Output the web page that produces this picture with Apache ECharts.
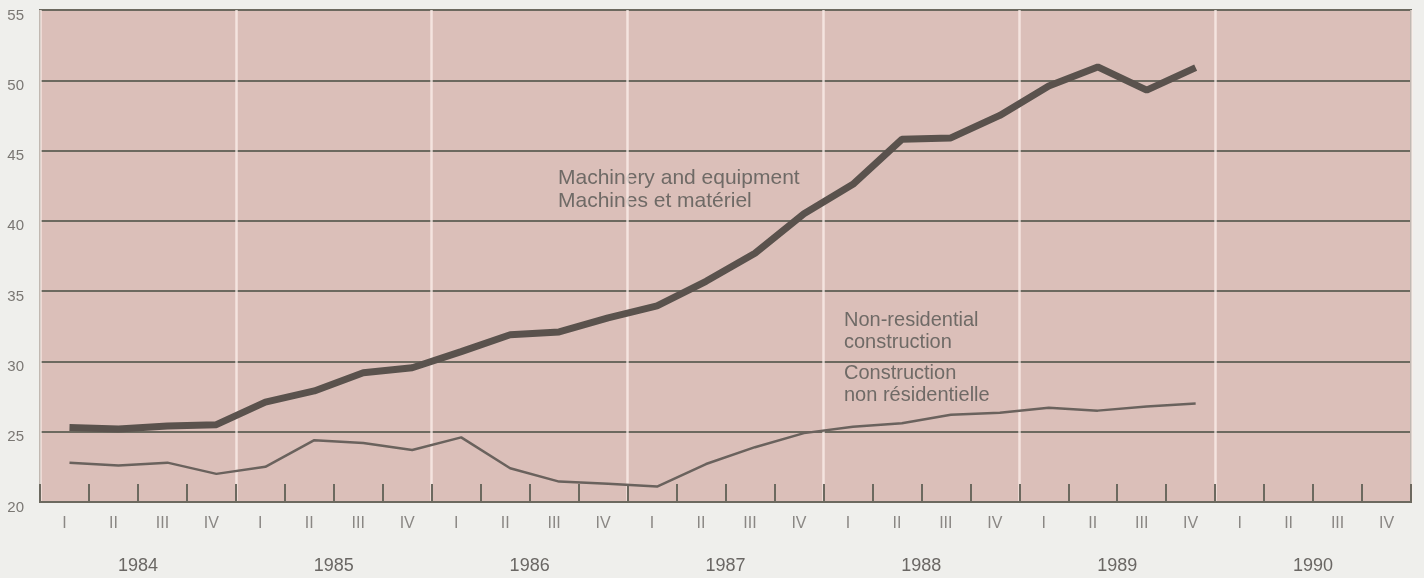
<!DOCTYPE html>
<html>
<head>
<meta charset="utf-8">
<script src="https://cdn.jsdelivr.net/npm/echarts@6/dist/echarts.min.js"></script>
<style>
html,body{margin:0;padding:0;background:#efefec;}
#chart{width:1424px;height:578px;}
</style>
</head>
<body>
<div id="chart"></div>
<script>
var quarters = ['I','II','III','IV','I','II','III','IV','I','II','III','IV','I','II','III','IV','I','II','III','IV','I','II','III','IV','I','II','III','IV'];
var years = ['1984','1985','1986','1987','1988','1989','1990'];
var machinery = [25.3,25.2,25.4,25.5,27.1,27.9,29.2,29.55,30.7,31.9,32.1,33.1,33.95,35.7,37.7,40.5,42.6,45.8,45.9,47.5,49.6,50.95,49.3,50.9];
var construction = [22.8,22.6,22.8,22.0,22.5,24.4,24.2,23.7,24.6,22.4,21.45,21.3,21.1,22.7,23.9,24.9,25.35,25.6,26.2,26.35,26.7,26.5,26.8,27.0];
var yTicks = {min:20, max:55, step:5};

var chart = echarts.init(document.getElementById('chart'));
var fontFam = '"Liberation Sans", Arial, sans-serif';
var textCol = '#6f6a66';
var frameCol = '#6c695f';
chart.setOption({
  backgroundColor: '#efefec',
  animation: false,
  grid: [
    {left:40, right:13, top:10, bottom:76, show:true, backgroundColor:'#dbbfb9', borderColor:frameCol, borderWidth:2},
    {left:45, right:8, top:10, bottom:76, show:false}
  ],
  xAxis: [
    {type:'category', gridIndex:0, data:quarters, boundaryGap:true, position:'bottom',
     axisLine:{show:true, lineStyle:{color:frameCol, width:2}},
     axisTick:{show:true, inside:true, length:18, lineStyle:{color:frameCol, width:2}},
     axisLabel:{color:'#8a8784', fontSize:16, margin:14, fontFamily:fontFam, interval:0},
     splitLine:{show:false}},
    {type:'category', gridIndex:0, data:years, boundaryGap:true, position:'bottom',
     axisLine:{show:false}, axisTick:{show:false},
     axisLabel:{color:'#6a6764', fontSize:18, margin:55, fontFamily:fontFam, interval:0},
     splitLine:{show:true, interval:0, lineStyle:{color:'rgba(250,238,232,0.8)', width:2.5}}},
    {type:'category', gridIndex:1, data:quarters, boundaryGap:true, show:false}
  ],
  yAxis: [
    {type:'value', gridIndex:0, min:yTicks.min, max:yTicks.max, interval:yTicks.step,
     axisLine:{show:false}, axisTick:{show:false},
     axisLabel:{color:'#7a7773', fontSize:15, margin:16, fontFamily:fontFam, verticalAlign:'top', lineHeight:11},
     splitLine:{show:true, lineStyle:{color:frameCol, width:2}}},
    {type:'value', gridIndex:1, min:yTicks.min, max:yTicks.max, interval:yTicks.step, show:false}
  ],
  series: [
    {type:'line', name:'Machinery and equipment', xAxisIndex:2, yAxisIndex:1, data:machinery, symbol:'none',
     lineStyle:{color:'#5a524d', width:7}, z:3},
    {type:'line', name:'Non-residential construction', xAxisIndex:2, yAxisIndex:1, data:construction, symbol:'none',
     lineStyle:{color:'#6a625d', width:2.5}, z:3}
  ],
  graphic: [
    {type:'text', left:558, top:167, style:{text:'Machinery and equipment\nMachines et matériel', fill:textCol, fontSize:21, lineHeight:22.5, fontFamily:fontFam}},
    {type:'text', left:844, top:309, style:{text:'Non-residential\nconstruction', fill:textCol, fontSize:20, lineHeight:22.5, fontFamily:fontFam}},
    {type:'text', left:844, top:362, style:{text:'Construction\nnon résidentielle', fill:textCol, fontSize:20, lineHeight:22.5, fontFamily:fontFam}}
  ]
});
</script>
</body>
</html>
